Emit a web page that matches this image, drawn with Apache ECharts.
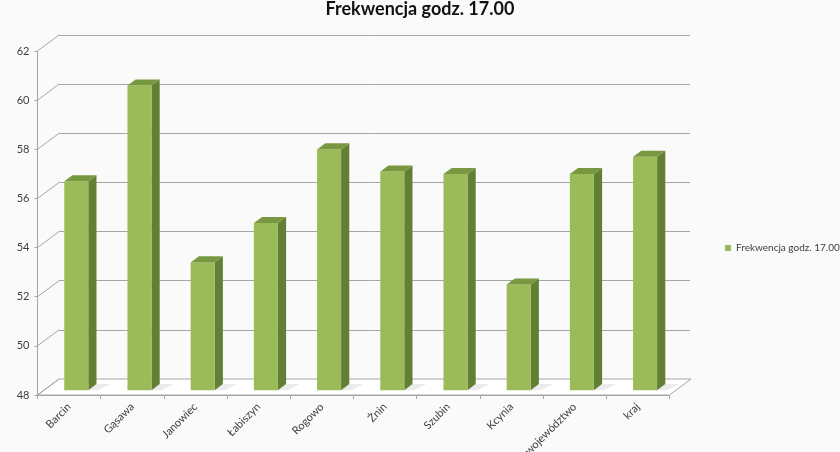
<!DOCTYPE html>
<html>
<head>
<meta charset="utf-8">
<script src="https://cdn.jsdelivr.net/npm/echarts@6/dist/echarts.min.js"></script>
<style>
  html, body { margin: 0; padding: 0; background: #fafafa; }
  #main { width: 840px; height: 452px; }
</style>
</head>
<body>
<div id="main"></div>
<script>
// dane
const categories = ['Barcin', 'Gąsawa', 'Janowiec', 'Łabiszyn', 'Rogowo', 'Żnin', 'Szubin', 'Kcynia', 'województwo', 'kraj'];
const values = [56.5, 60.4, 53.2, 54.8, 57.8, 56.9, 56.8, 52.3, 56.8, 57.5];
const yTicks = [48, 50, 52, 54, 56, 58, 60, 62];
const seriesName = 'Frekwencja godz. 17.00';

// przesuniecie "glebi" (przod -> tylna sciana)
const DX = 21.6, DY = -16;
const F0 = 0.3, F1 = 0.68;
const FONT = 'Lato';

const chart = echarts.init(document.getElementById('main'));

const option = {
  backgroundColor: '#fafafa',
  animation: false,
  title: {
    text: seriesName,
    left: 'center',
    top: 0,
    padding: 0,
    textStyle: { fontFamily: FONT, fontSize: 18, fontWeight: 'bold', color: '#111' }
  },
  legend: {
    data: [{ name: seriesName, icon: 'rect' }],
    left: 720,
    top: 238,
    itemWidth: 6,
    itemHeight: 6,
    itemGap: 4,
    textStyle: { fontFamily: FONT, fontSize: 10, color: '#404040' }
  },
  grid: [
    { left: 37.5, top: 51, width: 632, height: 344, outerBoundsMode: 'none', containLabel: false },   // front
    { left: 59.1, top: 35, width: 631, height: 344, outerBoundsMode: 'none', containLabel: false }    // back wall
  ],
  xAxis: [
    {
      gridIndex: 0,
      type: 'category',
      data: categories,
      axisLine: { lineStyle: { color: '#a6a6a6' } },
      axisTick: { show: true, length: 4, lineStyle: { color: '#a6a6a6' } },
      axisLabel: { rotate: 45, margin: 10, fontFamily: FONT, fontSize: 11, color: '#404040' }
    },
    { gridIndex: 1, type: 'category', data: categories, show: false }
  ],
  yAxis: [
    {
      gridIndex: 0,
      type: 'value',
      min: 48, max: 62, interval: 2,
      axisLine: { show: true, lineStyle: { color: '#a6a6a6' } },
      axisTick: { show: true, length: 3, lineStyle: { color: '#a6a6a6' } },
      axisLabel: { margin: 8, fontFamily: FONT, fontSize: 11, color: '#404040' },
      splitLine: { show: false }
    },
    {
      gridIndex: 1,
      type: 'value',
      min: 48, max: 62, interval: 2,
      axisLine: { show: false },
      axisTick: { show: false },
      axisLabel: { show: false },
      splitLine: { show: true, lineStyle: { color: '#a6a6a6', width: 1 } }
    }
  ],
  series: [
    // podloga
    {
      type: 'custom',
      xAxisIndex: 0, yAxisIndex: 0,
      silent: true,
      data: [[0, 48]],
      renderItem: function (params, api) {
        const cs = params.coordSys;
        const y = api.coord([0, 48])[1];
        const xl = cs.x, xr = cs.x + cs.width;
        return {
          type: 'polygon',
          shape: { points: [[xl, y], [xr, y], [xr + DX, y + DY], [xl + DX, y + DY]] },
          style: { fill: '#ffffff', stroke: '#a6a6a6', lineWidth: 1 }
        };
      }
    },
    // ukosne linie przy osi
    {
      type: 'custom',
      xAxisIndex: 0, yAxisIndex: 0,
      silent: true,
      data: yTicks.map(v => [0, v]),
      renderItem: function (params, api) {
        const x = params.coordSys.x;
        const y = api.coord([0, api.value(1)])[1];
        return {
          type: 'line',
          shape: { x1: x, y1: y, x2: x + DX, y2: y + DY },
          style: { stroke: '#a6a6a6', lineWidth: 1 }
        };
      }
    },
    // slupki
    {
      name: seriesName,
      type: 'custom',
      xAxisIndex: 0, yAxisIndex: 0,
      itemStyle: { color: '#9bbb59' },
      encode: { x: 0, y: 1 },
      data: values.map((v, i) => [i, v]),
      renderItem: function (params, api) {
        const top = api.coord([api.value(0), api.value(1)]);
        const base = api.coord([api.value(0), 48]);
        const band = api.size([1, 0])[0];
        const w = band * 0.38;
        const x0 = top[0] + F0 * DX - w / 2 + 0.7, x1 = x0 + w;
        const yT = top[1] + F0 * DY, yB = base[1] + F0 * DY;
        const ddx = (F1 - F0) * DX, ddy = (F1 - F0) * DY;
        return {
          type: 'group',
          children: [
            // cien na podlodze
            {
              type: 'polygon',
              shape: { points: [[x1, yB], [x1 + ddx, yB + ddy], [x1 + ddx + 14, yB + ddy], [x1 + 10, yB]] },
              style: { fill: 'rgba(0,0,0,0.08)' }
            },
            {
              type: 'polygon',
              shape: { points: [[x1, yT], [x1 + ddx, yT + ddy], [x1 + ddx, yB + ddy], [x1, yB]] },
              style: { fill: '#637f34' }
            },
            {
              type: 'rect',
              shape: { x: x0, y: yT, width: w, height: yB - yT },
              style: { fill: '#9bbb59' }
            },
            {
              type: 'polygon',
              shape: { points: [[x0, yT], [x1, yT], [x1 + ddx, yT + ddy], [x0 + ddx, yT + ddy]] },
              style: { fill: '#789840' }
            }
          ]
        };
      }
    }
  ]
};

chart.setOption(option);
</script>
</body>
</html>
